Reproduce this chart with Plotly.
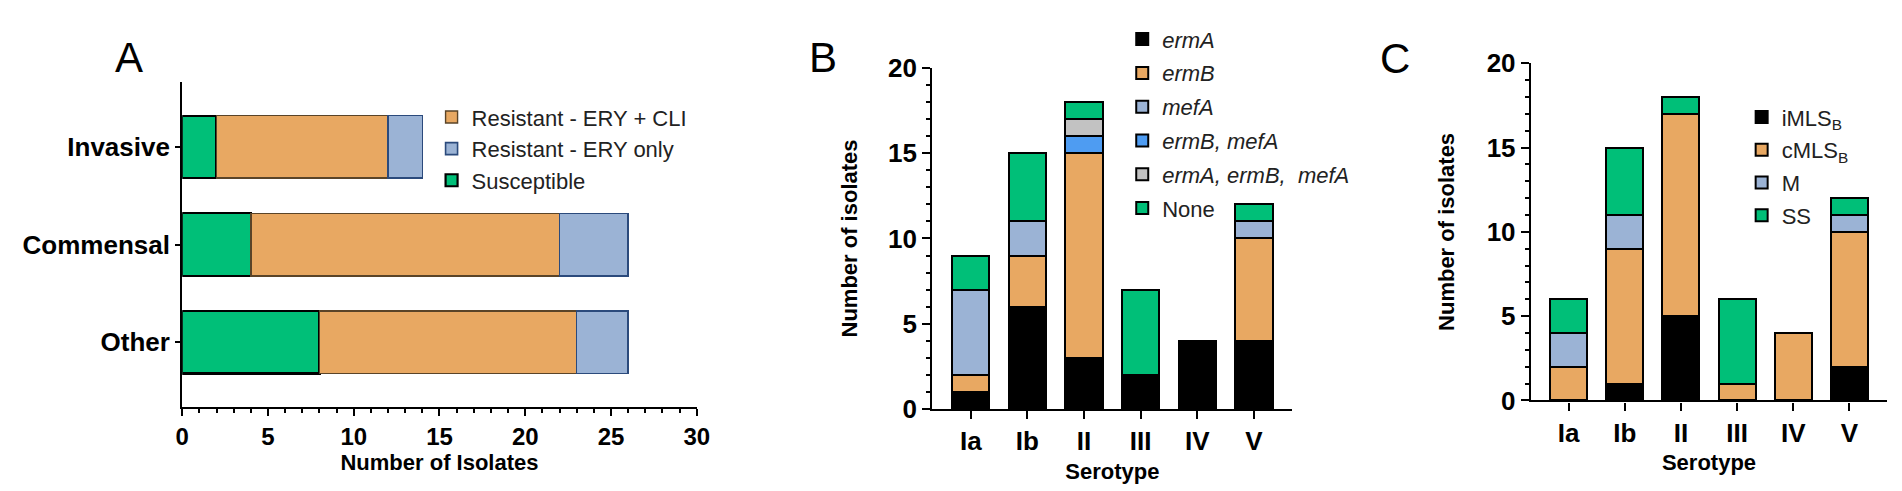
import plotly.graph_objects as go

W, H = 1902, 491
FONT = "Liberation Sans, Arial, sans-serif"

# ---------------- Data ----------------
# Panel A
groups_a = ["Invasive", "Commensal", "Other"]
susceptible = [2, 4, 8]
res_ery_cli = [10, 18, 15]
res_ery_only = [2, 4, 3]

# Panel B
serotypes = ["Ia", "Ib", "II", "III", "IV", "V"]
b_ermA = [1, 6, 3, 2, 4, 4]
b_ermB = [1, 3, 12, 0, 0, 6]
b_mefA = [5, 2, 0, 0, 0, 1]
b_ermB_mefA = [0, 0, 1, 0, 0, 0]
b_ermA_ermB_mefA = [0, 0, 1, 0, 0, 0]
b_none = [2, 4, 1, 5, 0, 1]

# Panel C
c_iMLSB = [0, 1, 5, 0, 0, 2]
c_cMLSB = [2, 8, 12, 1, 4, 8]
c_M = [2, 2, 0, 0, 0, 1]
c_SS = [2, 4, 1, 5, 0, 1]

# ---------------- Styles ----------------
BLACK = "#000000"
ORANGE = "#E8A862"
LBLUE = "#9BB3D5"
BLUE = "#4E9CF2"
GREY = "#C2C2C2"
GREEN = "#00BF78"


def nz(vals):
    return [v if v else None for v in vals]


def px_x(p):
    return p / W


def px_y(p):
    return 1 - p / H


fig = go.Figure()

# ---- Panel A (horizontal stacked) ----
a_specs = [
    ("Susceptible", susceptible, GREEN, BLACK, 2.2, 3),
    ("Resistant - ERY + CLI", res_ery_cli, ORANGE, "#5A4428", 1.4, 1),
    ("Resistant - ERY only", res_ery_only, LBLUE, "#2B4A7C", 1.6, 2),
]
for name, vals, col, lc, lw, rank in a_specs:
    fig.add_trace(go.Bar(
        name=name, x=nz(vals), y=groups_a, orientation="h",
        marker=dict(color=col, line=dict(color=lc, width=lw)),
        width=0.64, xaxis="x", yaxis="y", legend="legend",
        legendrank=rank, legendgroup="a" + str(rank),
    ))

# ---- Panel B ----
b_specs = [
    ("<i>ermA</i>", b_ermA, BLACK),
    ("<i>ermB</i>", b_ermB, ORANGE),
    ("<i>mefA</i>", b_mefA, LBLUE),
    ("<i>ermB, mefA</i>", b_ermB_mefA, BLUE),
    ("<i>ermA, ermB,\u00a0 mefA</i>", b_ermA_ermB_mefA, GREY),
    ("None", b_none, GREEN),
]
for i, (name, vals, col) in enumerate(b_specs):
    fig.add_trace(go.Bar(
        name=name, x=serotypes, y=nz(vals),
        marker=dict(color=col, line=dict(color=BLACK, width=2)),
        width=0.66, xaxis="x2", yaxis="y2", legend="legend2",
        legendrank=i + 1, legendgroup="b" + str(i),
    ))

# ---- Panel C ----
c_specs = [
    ("iMLS<sub>B</sub>", c_iMLSB, BLACK),
    ("cMLS<sub>B</sub>", c_cMLSB, ORANGE),
    ("M", c_M, LBLUE),
    ("SS", c_SS, GREEN),
]
for i, (name, vals, col) in enumerate(c_specs):
    fig.add_trace(go.Bar(
        name=name, x=serotypes, y=nz(vals),
        marker=dict(color=col, line=dict(color=BLACK, width=2)),
        width=0.66, xaxis="x3", yaxis="y3", legend="legend3",
        legendrank=i + 1, legendgroup="c" + str(i),
    ))

tickfont_b = dict(family=FONT, size=26, color="black", weight="bold")
title_font = dict(family=FONT, size=22, color="black", weight="bold")

common_lin = dict(showline=True, linecolor="black", linewidth=2.2, showgrid=False,
                  zeroline=False, ticks="outside", tickwidth=2, tickcolor="black")

legend_common = dict(bgcolor="rgba(0,0,0,0)", borderwidth=0,
                     font=dict(family=FONT, size=22, color="#222222"),
                     traceorder="grouped", xanchor="left", yanchor="top",
                     itemclick=False, itemdoubleclick=False)

fig.update_layout(
    width=W, height=H,
    margin=dict(l=0, r=0, t=0, b=0),
    paper_bgcolor="white", plot_bgcolor="white",
    barmode="stack",
    font=dict(family=FONT, color="black"),
    # Panel A axes
    xaxis=dict(domain=[px_x(169), px_x(689)], range=[0, 30], dtick=5, anchor="y",
               ticklen=7, minor=dict(dtick=1, ticklen=4, tickwidth=1.5, ticks="outside", tickcolor="black"),
               tickfont=dict(family=FONT, size=24, color="black", weight="bold"),
               title=dict(text="Number of Isolates", font=title_font, standoff=6),
               **common_lin),
    yaxis=dict(domain=[px_y(409), px_y(63)], anchor="x", type="category",
               categoryorder="array", categoryarray=groups_a, range=[2.663, -0.663],
               ticklen=5, tickfont=dict(family=FONT, size=26, color="black", weight="bold"),
               **common_lin),
    # Panel B axes
    xaxis2=dict(domain=[px_x(927), px_x(1291)], anchor="y2", type="category",
                range=[-0.68, 5.68], ticklen=8, tickfont=tickfont_b,
                title=dict(text="Serotype", font=title_font, standoff=8),
                **common_lin),
    yaxis2=dict(domain=[px_y(411), px_y(48)], anchor="x2", range=[0, 20], dtick=5,
                ticklen=8, minor=dict(dtick=1, ticklen=4, tickwidth=1.5, ticks="outside", tickcolor="black"),
                tickfont=tickfont_b,
                title=dict(text="Number of isolates", font=title_font, standoff=24),
                **common_lin),
    # Panel C axes
    xaxis3=dict(domain=[px_x(1532), px_x(1892)], anchor="y3", type="category",
                range=[-0.67, 5.67], ticklen=8, tickfont=tickfont_b,
                title=dict(text="Serotype", font=title_font, standoff=8),
                **common_lin),
    yaxis3=dict(domain=[px_y(402), px_y(43)], anchor="x3", range=[0, 20], dtick=5,
                ticklen=8, minor=dict(dtick=1, ticklen=4, tickwidth=1.5, ticks="outside", tickcolor="black"),
                tickfont=tickfont_b,
                title=dict(text="Number of isolates", font=title_font, standoff=26),
                **common_lin),
    legend=dict(x=px_x(421), y=px_y(78), tracegroupgap=0, **legend_common),
    legend2=dict(x=px_x(1119), y=px_y(-5), tracegroupgap=2.2, **legend_common),
    legend3=dict(x=px_x(1745), y=px_y(78), tracegroupgap=1.1, **legend_common),
    annotations=[
        dict(text="A", x=px_x(115), y=px_y(37), xref="paper", yref="paper", showarrow=False,
             font=dict(family=FONT, size=42, color="black"), xanchor="center", yanchor="middle"),
        dict(text="B", x=px_x(817), y=px_y(37), xref="paper", yref="paper", showarrow=False,
             font=dict(family=FONT, size=42, color="black"), xanchor="center", yanchor="middle"),
        dict(text="C", x=px_x(1395), y=px_y(38), xref="paper", yref="paper", showarrow=False,
             font=dict(family=FONT, size=42, color="black"), xanchor="center", yanchor="middle"),
    ],
)

fig.write_html("out.html")
